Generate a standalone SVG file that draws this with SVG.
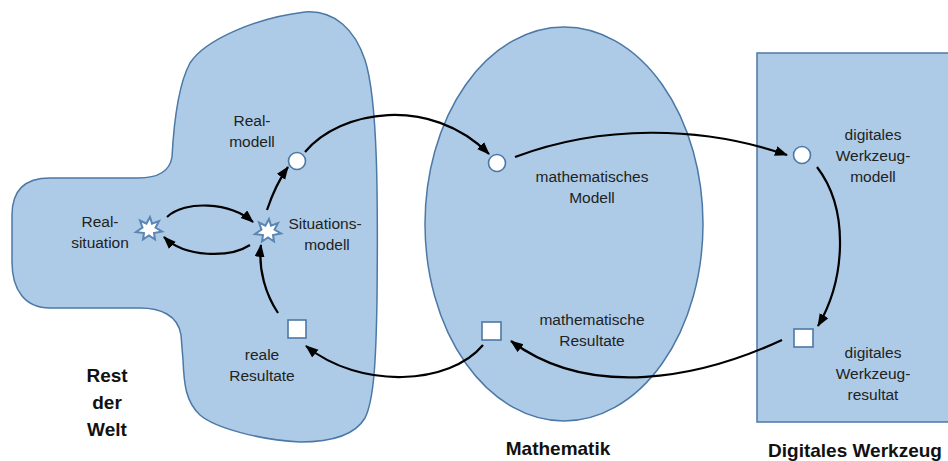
<svg xmlns="http://www.w3.org/2000/svg" width="948" height="461" viewBox="0 0 948 461">
<style>
.region{fill:#adcbe7;stroke:#4c78a6;stroke-width:1.5}
.node{fill:#ffffff;stroke:#4c78a6;stroke-width:1.6}
.star{fill:#ffffff;stroke:#5b86b3;stroke-width:2}
.lbl{font-family:"Liberation Sans",Arial,sans-serif;font-size:15.5px;fill:#222;text-anchor:middle}
.title{font-family:"Liberation Sans",Arial,sans-serif;font-size:19px;font-weight:bold;fill:#111;text-anchor:middle}
.conn{fill:none;stroke:#000;stroke-width:2.2}
</style>
<defs>
<marker id="ah" markerUnits="userSpaceOnUse" markerWidth="14" markerHeight="12" refX="12" refY="5" orient="auto">
<path d="M0,0 L13,5 L0,10 Z" fill="#000"/>
</marker>
<polygon id="star" points="1,-12 3,-5.4 10,-8 6.5,-1.3 13,2.5 5,4 6,10.5 0,6.5 -6,10.5 -5,4 -13,3 -6.5,-1.3 -9,-8.5 -2.6,-5.4"/>
</defs>

<g id="rest-der-welt">
<path class="region" d="M172,157 C174,120 178,85 190,63 C205,40 255,18 305,12 C335,10 355,30 365,60 C378,100 378,200 377,300 C376,360 374,400 365,418 C355,435 330,442 300,442 C260,440 215,428 200,415 C186,402 184,385 183,360 L181,335 C178,315 160,308 140,308 L50,308 C25,308 12,290 12,262 L12,215 C12,190 25,178 50,178 L138,178 C160,178 170,170 172,157 Z"/>
<text class="title" x="107" y="382">Rest</text>
<text class="title" x="107" y="409">der</text>
<text class="title" x="107" y="436">Welt</text>
</g>

<g id="mathematik">
<ellipse class="region" cx="564" cy="224" rx="139" ry="197"/>
<text class="title" x="558" y="455">Mathematik</text>
</g>

<g id="digitales-werkzeug">
<rect class="region" x="757" y="53" width="200" height="369"/>
<text class="title" x="855" y="457">Digitales Werkzeug</text>
</g>

<g id="realsituation">
<use href="#star" class="star" transform="translate(149,229)"/>
<text class="lbl" x="100" y="227">Real-</text>
<text class="lbl" x="100" y="248">situation</text>
</g>

<g id="situationsmodell">
<use href="#star" class="star" transform="translate(268,231)"/>
<text class="lbl" x="325" y="229">Situations-</text>
<text class="lbl" x="327" y="250">modell</text>
</g>

<g id="realmodell">
<circle class="node" cx="297" cy="161" r="8.5"/>
<text class="lbl" x="252" y="126">Real-</text>
<text class="lbl" x="252" y="147">modell</text>
</g>

<g id="reale-resultate">
<rect class="node" x="288" y="320" width="18" height="18"/>
<text class="lbl" x="262" y="360">reale</text>
<text class="lbl" x="262" y="381">Resultate</text>
</g>

<g id="mathematisches-modell">
<circle class="node" cx="497" cy="163" r="8.5"/>
<text class="lbl" x="592" y="182">mathematisches</text>
<text class="lbl" x="592" y="203">Modell</text>
</g>

<g id="mathematische-resultate">
<rect class="node" x="482" y="322" width="19" height="18"/>
<text class="lbl" x="592" y="325">mathematische</text>
<text class="lbl" x="592" y="346">Resultate</text>
</g>

<g id="werkzeugmodell">
<circle class="node" cx="802" cy="155" r="8.5"/>
<text class="lbl" x="873" y="140">digitales</text>
<text class="lbl" x="873" y="161">Werkzeug-</text>
<text class="lbl" x="873" y="182">modell</text>
</g>

<g id="werkzeugresultat">
<rect class="node" x="794" y="329" width="19" height="18"/>
<text class="lbl" x="873" y="358">digitales</text>
<text class="lbl" x="873" y="379">Werkzeug-</text>
<text class="lbl" x="873" y="400">resultat</text>
</g>

<g id="connectors">
<path class="conn" marker-end="url(#ah)" d="M167,217 C185,200 230,202 253,222"/>
<path class="conn" marker-end="url(#ah)" d="M250,245 C230,258 185,258 164,237"/>
<path class="conn" marker-end="url(#ah)" d="M267,210 C272,195 278,181 288,167"/>
<path class="conn" marker-end="url(#ah)" d="M278,313 C266,295 258,270 261,245"/>
<path class="conn" marker-end="url(#ah)" d="M305,152 C340,110 430,95 489,154"/>
<path class="conn" marker-end="url(#ah)" d="M515,157 C600,125 700,125 787,155"/>
<path class="conn" marker-end="url(#ah)" d="M817,167 C850,210 845,280 818,326"/>
<path class="conn" marker-end="url(#ah)" d="M782,340 C700,378 590,400 511,341"/>
<path class="conn" marker-end="url(#ah)" d="M483,345 C450,385 360,390 306,346"/>
</g>
</svg>
